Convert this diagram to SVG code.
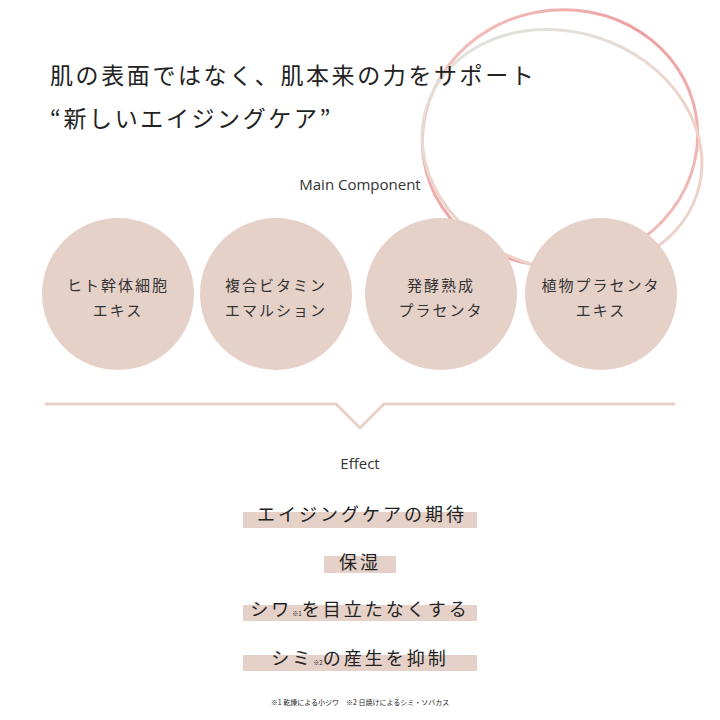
<svg xmlns="http://www.w3.org/2000/svg" width="720" height="720" viewBox="0 0 720 720">
<defs>
<linearGradient id="g1" x1="0" y1="0" x2="1" y2="1"><stop offset="0" stop-color="#f4c9c2"/><stop offset="0.5" stop-color="#ec9ea0"/><stop offset="1" stop-color="#f1c4bc"/></linearGradient>
<linearGradient id="g2" x1="0" y1="0" x2="1" y2="1"><stop offset="0" stop-color="#dce7e0"/><stop offset="0.6" stop-color="#f0d0c8"/><stop offset="1" stop-color="#e8d6cf"/></linearGradient>
<style>
.jp{font-family:"Noto Sans CJK JP",sans-serif;fill:#222}
.en{font-family:"Open Sans","Liberation Sans",sans-serif;fill:#333;font-size:15px}
.node circle{fill:#e6d1c9}
.node text{font-family:"Noto Sans CJK JP",sans-serif;font-size:15px;fill:#333;text-anchor:middle;letter-spacing:2px}
.bar{fill:#e6d1c9}
.eff{font-family:"Noto Sans CJK JP",sans-serif;font-size:18px;fill:#222;text-anchor:middle;letter-spacing:3px}
</style>
</defs>
<ellipse cx="560" cy="138" rx="138" ry="128" fill="none" stroke="url(#g1)" stroke-width="3" transform="rotate(-10 560 138)"/>
<ellipse cx="562" cy="150" rx="142" ry="118" fill="none" stroke="url(#g2)" stroke-width="3" transform="rotate(18 562 150)"/>
<text class="jp" x="50" y="84" font-size="23" letter-spacing="2.6">肌の表面ではなく、肌本来の力をサポート</text>
<text class="jp" x="50" y="127" font-size="23" letter-spacing="2.6">“新しいエイジングケア”</text>
<text class="en" x="360" y="190" text-anchor="middle">Main Component</text>
<g id="n1" class="node"><circle cx="118" cy="294" r="76"/><text x="118" y="291">ヒト幹体細胞</text><text x="118" y="316">エキス</text></g>
<g id="n2" class="node"><circle cx="276" cy="294" r="76"/><text x="276" y="291">複合ビタミン</text><text x="276" y="316">エマルション</text></g>
<g id="n3" class="node"><circle cx="441" cy="294" r="76"/><text x="441" y="291">発酵熟成</text><text x="441" y="316">プラセンタ</text></g>
<g id="n4" class="node"><circle cx="601" cy="294" r="76"/><text x="601" y="291">植物プラセンタ</text><text x="601" y="316">エキス</text></g>
<g id="connectors"><polyline points="45,404 336,404 360,428 384,404 675,404" fill="none" stroke="#e6d1c9" stroke-width="3"/></g>
<text class="en" x="360" y="469" text-anchor="middle">Effect</text>
<rect class="bar" x="243" y="512" width="234" height="16"/>
<text class="eff" x="362" y="521">エイジングケアの期待</text>
<rect class="bar" x="324" y="556" width="72" height="17"/>
<text class="eff" x="360" y="569">保湿</text>
<rect class="bar" x="243" y="605" width="234" height="16"/>
<text class="eff" x="360" y="616">シワ<tspan font-size="6" letter-spacing="0">※1</tspan>を目立たなくする</text>
<rect class="bar" x="243" y="655" width="234" height="16"/>
<text class="eff" x="360" y="665">シミ<tspan font-size="6" letter-spacing="0">※2</tspan>の産生を抑制</text>
<text class="jp" x="360" y="705" font-size="7" text-anchor="middle" fill="#444">※1 乾燥による小ジワ　※2 日焼けによるシミ・ソバカス</text>
</svg>
